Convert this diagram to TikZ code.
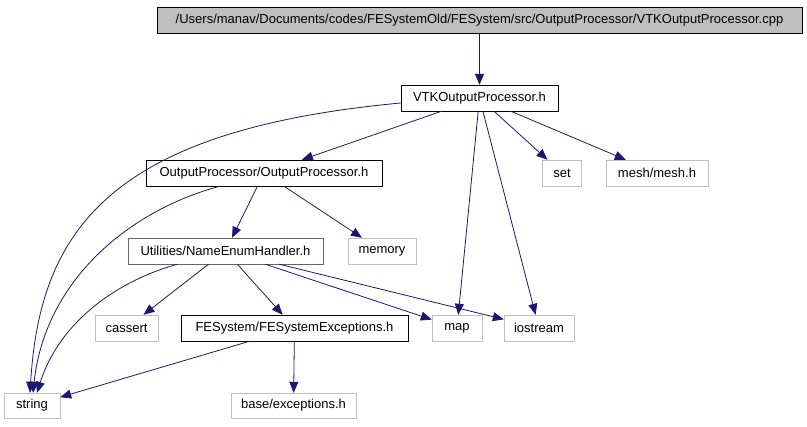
\documentclass[tikz,border=0pt]{standalone}
\usepackage{fontspec}
\setmainfont{Liberation Sans}
\usetikzlibrary{arrows.meta}
\definecolor{edgeblue}{HTML}{191970}
\definecolor{boxgray}{HTML}{BFBFBF}
\tikzset{
    file/.style={draw=black, fill=white, minimum height=26, inner sep=0pt,
        font=\fontsize{13}{15}\selectfont},
    sysfile/.style={file, draw=boxgray},
    rootfile/.style={file, fill=boxgray},
    dep/.style={edgeblue, thick, -{Triangle[length=11pt,width=9pt]}}
}
\begin{document}
\begin{tikzpicture}[x=1pt, y=-1pt]
    \useasboundingbox (0,0) rectangle (807,427);

    % Files
    \node[rootfile, minimum width=645] (root) at (479.5,20) {/Users/manav/Documents/codes/FESystemOld/FESystem/src/OutputProcessor/VTKOutputProcessor.cpp};
    \node[file, minimum width=157] (vtk) at (479.5,98) {VTKOutputProcessor.h};
    \node[file, minimum width=236] (op) at (264,173) {OutputProcessor/OutputProcessor.h};
    \node[sysfile, minimum width=39] (set) at (562,173) {set};
    \node[sysfile, minimum width=102] (mesh) at (657,173) {mesh/mesh.h};
    \node[file, draw=black!60, minimum width=195] (ne) at (225.5,251) {Utilities/NameEnumHandler.h};
    \node[sysfile, minimum width=68] (memory) at (382,251) {memory};
    \node[sysfile, minimum width=63] (cassert) at (126.5,328) {cassert};
    \node[file, minimum width=227] (fex) at (294.5,328) {FESystem/FESystemExceptions.h};
    \node[sysfile, minimum width=50] (map) at (457,328) {map};
    \node[sysfile, minimum width=70] (iostream) at (539,328) {iostream};
    \node[sysfile, minimum width=56, minimum height=25] (string) at (32,405.5) {string};
    \node[sysfile, minimum width=125, minimum height=25] (base) at (293.5,405.5) {base/exceptions.h};

    % Includes
    \draw[dep] (root) -- (vtk);
    \draw[dep] (vtk) -- (op);
    \draw[dep] (vtk) -- (set);
    \draw[dep] (vtk) -- (mesh);
    \draw[dep] (vtk) -- (map);
    \draw[dep] (vtk) -- (iostream);
    \draw[dep] ([yshift=-5pt]vtk.west) .. controls (110,130) and (40,230) .. ([xshift=-2pt]string.north);
    \draw[dep] (op) -- (ne);
    \draw[dep] (op) -- (memory);
    \draw[dep] ([xshift=-44pt]op.south) .. controls (130,210) and (45,280) .. ([xshift=1pt]string.north);
    \draw[dep] (ne) -- (cassert);
    \draw[dep] (ne) -- (fex);
    \draw[dep] (ne) -- (map);
    \draw[dep] (ne) -- (iostream);
    \draw[dep] ([xshift=-48pt]ne.south) .. controls (120,280) and (60,320) .. ([xshift=5pt]string.north);
    \draw[dep] (fex) -- (string);
    \draw[dep] (fex) -- (base);
\end{tikzpicture}
\end{document}
